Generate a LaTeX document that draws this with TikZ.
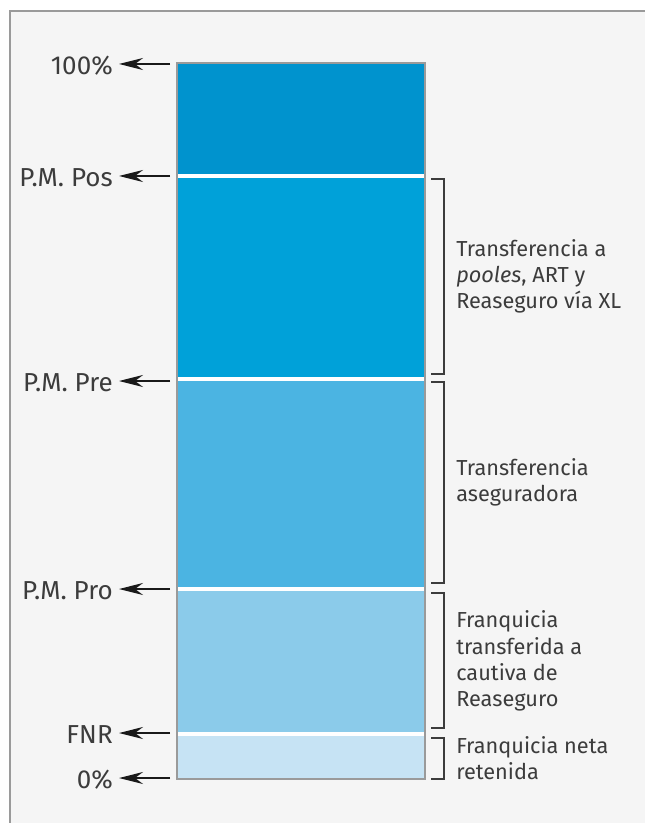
\documentclass[tikz,border=0pt]{standalone}
\usepackage{fontspec}
\setmainfont{Fira Sans}
\usepackage{tikz}
\usetikzlibrary{arrows.meta}
\definecolor{paper}{HTML}{F5F5F5}
\definecolor{frameline}{HTML}{9A9A9A}
\definecolor{ink}{HTML}{3C3C3C}
\definecolor{segA}{HTML}{0093CE}
\definecolor{segB}{HTML}{00A1D9}
\definecolor{segC}{HTML}{4BB4E2}
\definecolor{segD}{HTML}{8BCBEA}
\definecolor{segE}{HTML}{C6E3F4}

\begin{document}
\begin{tikzpicture}[x=0.75pt,y=-0.75pt,
  level/.style={anchor=east,inner sep=0pt,text=ink,font=\fontsize{19.5}{22}\selectfont},
  note/.style={anchor=west,inner sep=0pt,align=left,text=ink,font=\fontsize{16.3}{19.6}\selectfont},
  tick/.style={-{Stealth[length=18pt,width=9pt,inset=6pt]},line width=1.1pt,draw=black!90,shorten >=4.5pt},
  brace/.style={draw=ink,line width=0.9pt},
  sep/.style={draw=white,line width=3.5pt}]
\useasboundingbox (0,0) rectangle (645,823);
\fill[white] (0,0) rectangle (645,823);
\fill[paper] (10,11) rectangle (645,823);
\draw[frameline,line width=1.2pt] (10,823) -- (10,11) -- (645,11);
\fill[segA] (177,63) rectangle (425,176);
\fill[segB] (177,176) rectangle (425,379);
\fill[segC] (177,379) rectangle (425,589);
\fill[segD] (177,589) rectangle (425,734);
\fill[segE] (177,734) rectangle (425,779);
\draw[sep] (177,176) -- (425,176);
\draw[sep] (177,379) -- (425,379);
\draw[sep] (177,589) -- (425,589);
\draw[sep] (177,734) -- (425,734);
\draw[frameline,line width=0.9pt] (177,63) rectangle (425,779);
\node[level] (top) at (113,66) {100\%};
\node[level] (pos) at (113,178) {P.M. Pos};
\node[level] (pre) at (113,383) {P.M. Pre};
\node[level] (pro) at (113,591) {P.M. Pro};
\node[level] (fnr) at (113,735) {FNR};
\node[level] (zero) at (113,780) {0\%};
\coordinate (ttop) at (170,64);
\coordinate (tpos) at (170,176);
\coordinate (tpre) at (170,381);
\coordinate (tpro) at (170,589);
\coordinate (tfnr) at (170,733);
\coordinate (tzero) at (170,778);
\draw[tick] (ttop) -- (ttop -| top.east);
\draw[tick] (tpos) -- (tpos -| pos.east);
\draw[tick] (tpre) -- (tpre -| pre.east);
\draw[tick] (tpro) -- (tpro -| pro.east);
\draw[tick] (tfnr) -- (tfnr -| fnr.east);
\draw[tick] (tzero) -- (tzero -| zero.east);
\draw[brace] (431,179) -- (444,179) -- (444,374) -- (431,374);
\draw[brace] (431,382) -- (444,382) -- (444,583) -- (431,583);
\draw[brace] (431,593) -- (444,593) -- (444,728) -- (431,728);
\draw[brace] (431,738) -- (444,738) -- (444,779) -- (431,779);
\node[note] (pools) at (456,276) {Transferencia a\\\textit{pooles}, ART y\\Reaseguro vía XL};
\node[note] (aseg) at (456,482) {Transferencia\\aseguradora};
\node[note] (cautiva) at (456,661) {Franquicia\\transferida a\\cautiva de\\Reaseguro};
\node[note] (neta) at (456,758) {Franquicia neta\\retenida};
\end{tikzpicture}
\end{document}
